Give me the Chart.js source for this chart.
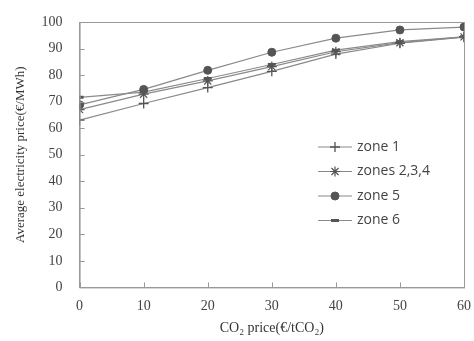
<!DOCTYPE html>
<html>
<head>
<meta charset="utf-8">
<script src="https://cdn.jsdelivr.net/npm/chart.js@4"></script>
<style>
  html, body { margin: 0; padding: 0; background: #fff; }
  #wrap { width: 474px; height: 341px; }
</style>
</head>
<body>
<div id="wrap"><canvas id="chart" width="474" height="341"></canvas></div>
<script>
const co2Prices = [0, 10, 20, 30, 40, 50, 60];
const zone1 = [63, 69.3, 75.3, 81.4, 87.9, 92, 94.3];
const zones234 = [67, 72.8, 77.8, 83.2, 88.8, 92.2, 94.4];
const zone5 = [68.8, 74.6, 81.8, 88.6, 93.9, 97, 98.1];
const zone6 = [71.6, 73.6, 78.7, 84, 89.4, 92.6, 94.4];
const seriesNames = ['zone 1', 'zones 2,3,4', 'zone 5', 'zone 6'];

const lineColor = '#8a8a8a';
const markColor = '#555';
const serif = '"Liberation Serif", "DejaVu Serif", serif';

function series(label, data, style, radius, bw) {
    return {
        label, data: data.map((y, i) => ({ x: co2Prices[i], y })),
        borderColor: lineColor, borderWidth: 1.2,
        pointStyle: style, pointRadius: radius, pointBorderColor: markColor,
        pointBackgroundColor: markColor, pointBorderWidth: bw, tension: 0
    };
}

// frame, inside ticks and legend
const extras = {
    id: 'extras',
    afterDraw(chart) {
        const { ctx, chartArea: a, scales } = chart;
        ctx.save();
        ctx.strokeStyle = '#999';
        ctx.lineWidth = 1;
        ctx.strokeRect(a.left + 0.5, a.top + 0.5, a.right - a.left, a.bottom - a.top);
        ctx.beginPath();
        scales.y.ticks.forEach(t => {
            const y = Math.round(scales.y.getPixelForValue(t.value)) + 0.5;
            ctx.moveTo(a.left, y); ctx.lineTo(a.left + 5, y);
        });
        scales.x.ticks.forEach(t => {
            const x = Math.round(scales.x.getPixelForValue(t.value)) + 0.5;
            ctx.moveTo(x, a.bottom); ctx.lineTo(x, a.bottom - 5);
        });
        ctx.stroke();

        ctx.font = '14px "Open Sans", "Liberation Sans", sans-serif';
        ctx.textBaseline = 'middle';
        chart.data.datasets.forEach((ds, i) => {
            const y = 147 + i * 24.5;
            ctx.strokeStyle = lineColor;
            ctx.lineWidth = 1.2;
            ctx.beginPath(); ctx.moveTo(318, y); ctx.lineTo(352, y); ctx.stroke();
            ctx.strokeStyle = markColor;
            ctx.fillStyle = markColor;
            ctx.lineWidth = ds.pointBorderWidth;
            Chart.helpers.drawPoint(ctx, { pointStyle: ds.pointStyle, radius: ds.pointRadius, rotation: 0, borderWidth: ds.pointBorderWidth }, 335, y);
            ctx.fillStyle = '#444';
            ctx.fillText(ds.label, 357, y);
        });
        ctx.restore();
    }
};

new Chart(document.getElementById('chart').getContext('2d'), {
    type: 'line',
    data: {
        datasets: [
            series(seriesNames[0], zone1, 'cross', 5, 1.3),
            series(seriesNames[1], zones234, 'star', 5, 1.2),
            series(seriesNames[2], zone5, 'circle', 4, 1),
            series(seriesNames[3], zone6, 'line', 4, 3)
        ]
    },
    options: {
        responsive: false,
        animation: false,
        layout: { padding: { left: 9, right: -4, top: 22, bottom: 4 } },
        plugins: { legend: { display: false }, tooltip: { enabled: false } },
        scales: {
            x: {
                type: 'linear', min: 0, max: 60,
                ticks: { stepSize: 10, color: '#444', font: { family: serif, size: 14 }, padding: 3 },
                grid: { display: false },
                border: { color: '#999' },
                title: { display: true, text: 'CO₂ price(€/tCO₂)', color: '#333', font: { family: serif, size: 14 }, padding: { top: 2, bottom: 0 } }
            },
            y: {
                min: 0, max: 100,
                ticks: { stepSize: 10, color: '#444', font: { family: serif, size: 14 }, padding: 9 },
                grid: { display: false },
                border: { color: '#999' },
                title: { display: true, text: 'Average electricity price(€/MWh)', color: '#333', font: { family: serif, size: 13 }, padding: { bottom: 4 } }
            }
        }
    },
    plugins: [extras]
});
</script>
</body>
</html>
